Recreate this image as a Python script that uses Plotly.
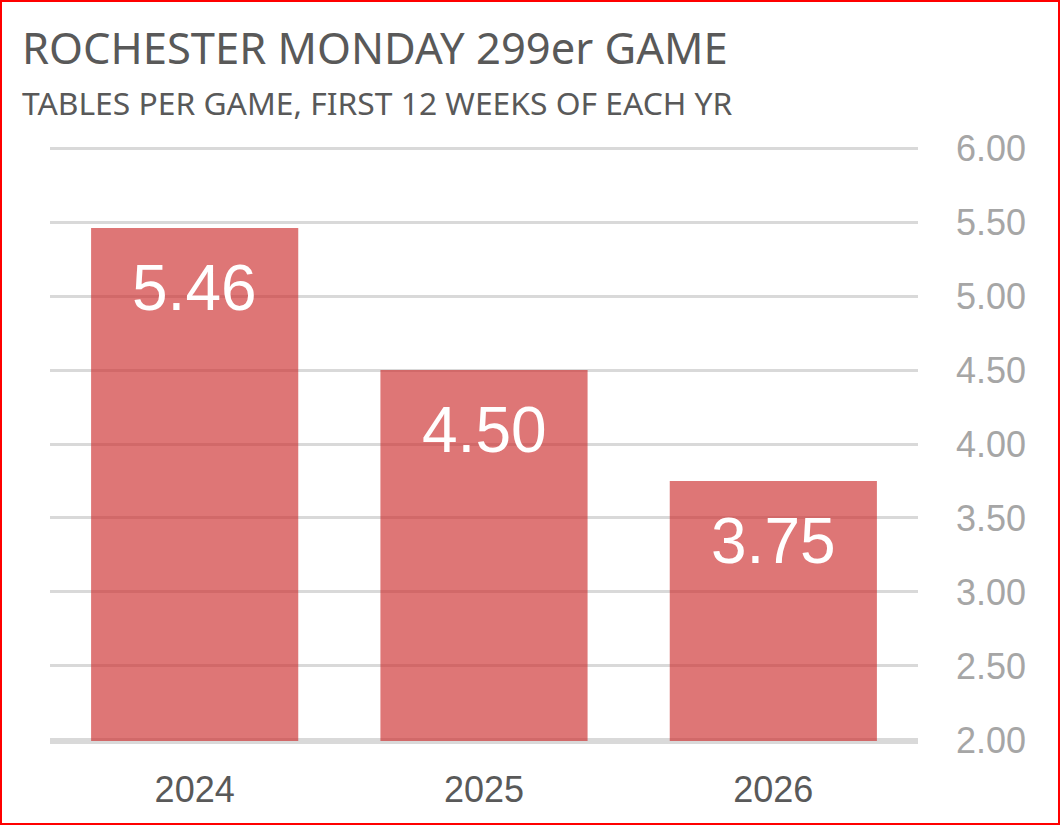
import plotly.graph_objects as go

years = [2024, 2025, 2026]
tables_per_game = [5.46, 4.50, 3.75]
y_ticks = [2.0, 2.5, 3.0, 3.5, 4.0, 4.5, 5.0, 5.5, 6.0]
title_text = "ROCHESTER MONDAY 299er GAME"
subtitle_text = "TABLES PER GAME, FIRST 12 WEEKS OF EACH YR"

W, H = 1060, 825
L, R, T, B = 50, 142, 147, 84
pw, ph = W - L - R, H - T - B

def px_x(x):
    return (x - L) / pw

def px_y(y):
    return (H - B - y) / ph

TFONT = "Noto Sans"
NFONT = "Liberation Sans"

fig = go.Figure()
fig.add_trace(go.Bar(
    x=years,
    y=tables_per_game,
    marker=dict(color="rgba(204,44,44,0.65)", line=dict(width=0)),
    hoverinfo="skip",
))

annotations = []
for yr, v in zip(years, tables_per_game):
    annotations.append(dict(
        x=yr, y=v, xref="x", yref="y", text=f"{v:.2f}",
        showarrow=False, yanchor="top", yshift=-22,
        font=dict(family=NFONT, size=64, color="white"),
    ))

annotations.append(dict(
    x=px_x(20), y=px_y(47), xref="paper", yref="paper", text=title_text,
    showarrow=False, xanchor="left", yanchor="middle",
    font=dict(family=TFONT, size=43.5, color="#595959"),
))
annotations.append(dict(
    x=px_x(20), y=px_y(103), xref="paper", yref="paper", text=subtitle_text,
    showarrow=False, xanchor="left", yanchor="middle",
    font=dict(family=TFONT, size=31.8, color="#595959"),
))

fig.update_layout(
    width=W, height=H,
    margin=dict(l=L, r=R, t=T, b=B),
    paper_bgcolor="white", plot_bgcolor="white",
    bargap=0.284,
    showlegend=False,
    annotations=annotations,
    shapes=[dict(
        type="rect", xref="paper", yref="paper",
        x0=px_x(1), x1=px_x(W - 1), y0=px_y(H - 1), y1=px_y(1),
        line=dict(color="#ff0000", width=2), fillcolor="rgba(0,0,0,0)",
        layer="above",
    )],
    xaxis=dict(
        type="linear", range=[years[0] - 0.5, years[-1] + 0.5],
        tickvals=years, ticktext=[str(y) for y in years],
        showgrid=False, zeroline=False,
        showline=True, linecolor="#d9d9d9", linewidth=3,
        tickfont=dict(family=NFONT, size=36, color="#595959"),
        ticks="", ticklabelstandoff=15,
    ),
    yaxis=dict(
        side="right", range=[1.993, 6.007], tickvals=y_ticks,
        ticktext=[f"{t:.2f}" for t in y_ticks],
        showgrid=True, gridcolor="#d9d9d9", gridwidth=3,
        zeroline=False, showline=False, ticks="",
        tickfont=dict(family=NFONT, size=36, color="#a6a6a6"),
        ticklabelstandoff=37,
    ),
)

fig.write_html(
    "out.html",
    config={"displayModeBar": False},
    post_script="document.body.style.margin='0';document.body.style.padding='0';",
)
